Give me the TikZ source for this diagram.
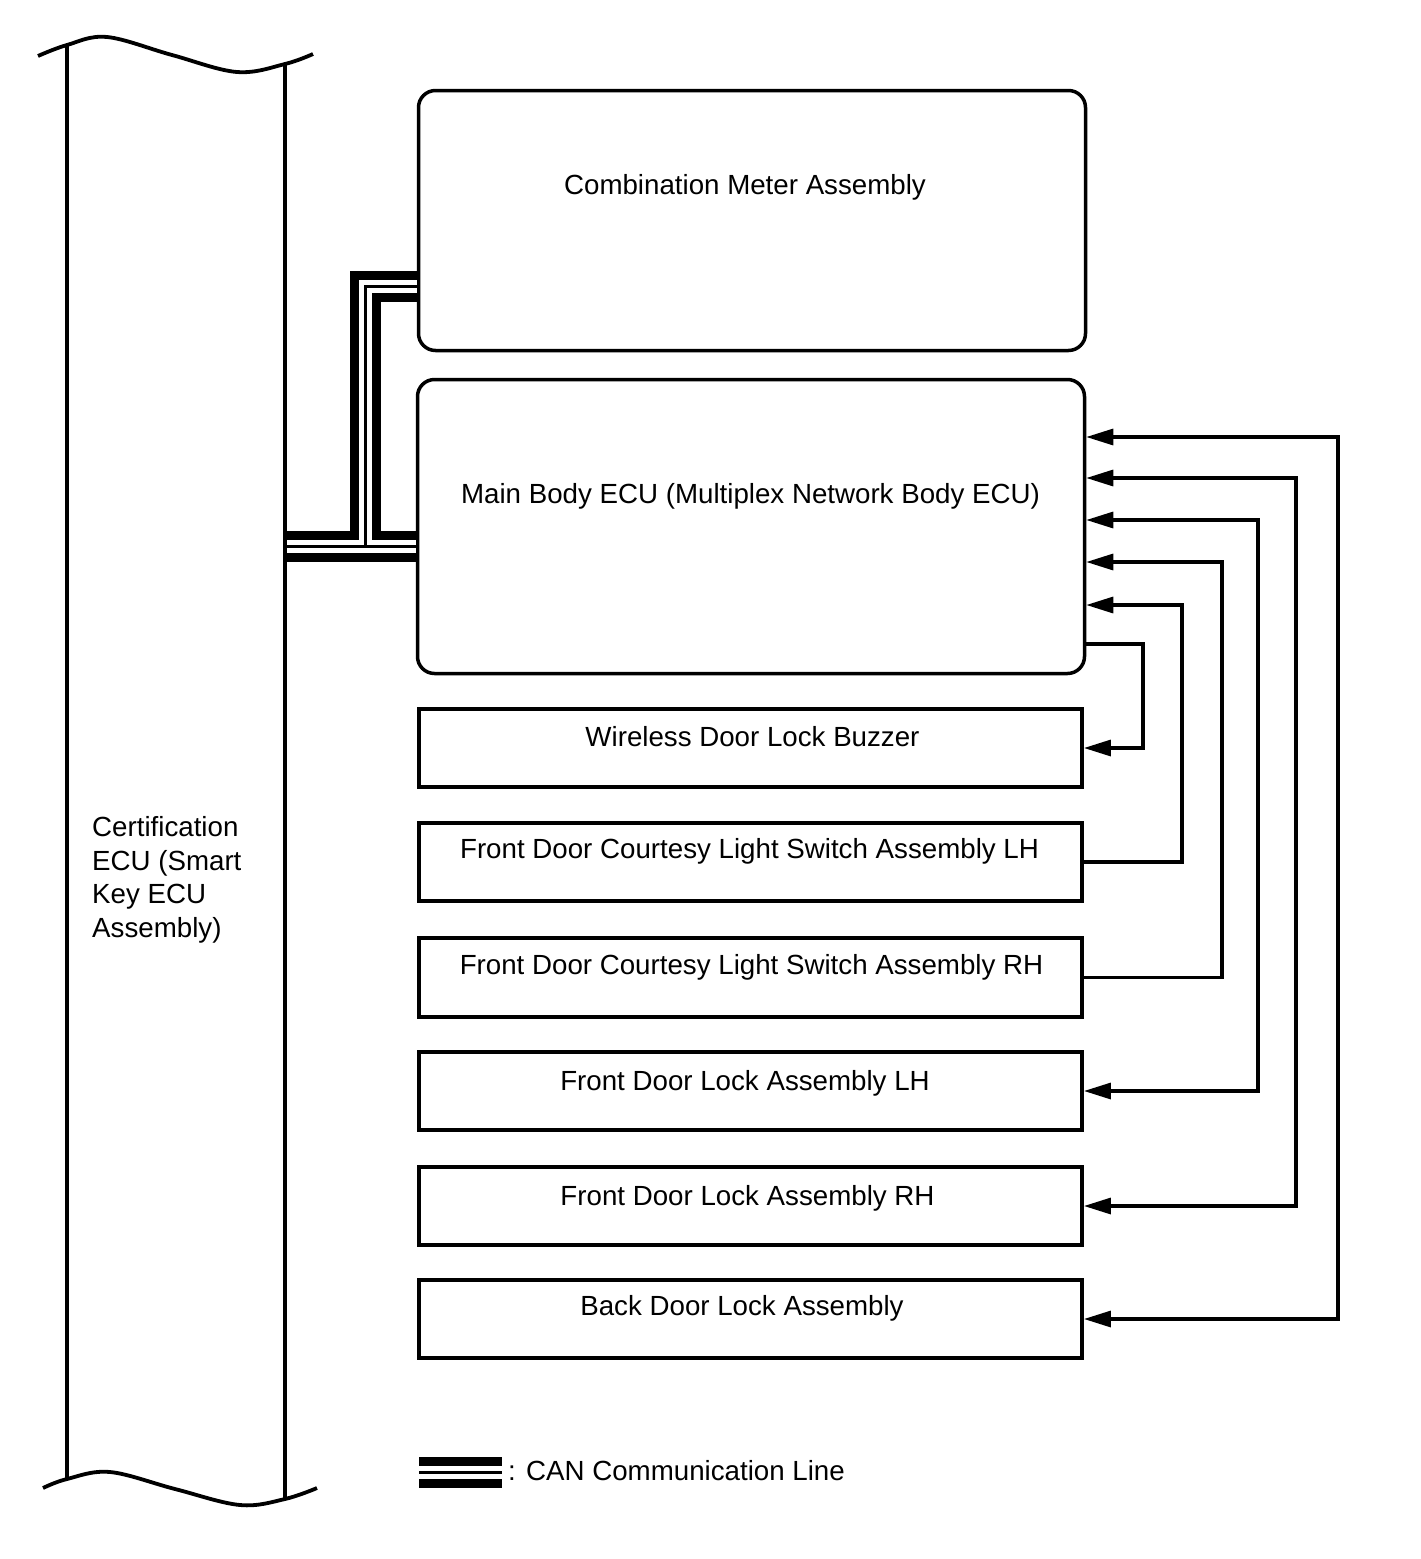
\documentclass[tikz,border=0pt]{standalone}
\usepackage{fontspec}
\setmainfont{Liberation Sans}
\usetikzlibrary{arrows.meta}
\begin{document}
\begin{tikzpicture}[x=1pt,y=-1pt,
  >={Triangle[length=27pt,width=16pt]},
  box/.style={draw,line width=3.8pt,inner sep=0pt,minimum width=663pt,minimum height=78.5pt},
  rbox/.style={draw,line width=3.5pt,rounded corners=17pt,inner sep=0pt,minimum width=667pt},
  lbl/.style={inner sep=0pt,anchor=base,font=\fontsize{27.7}{33.5}\selectfont},
  conn/.style={line width=3.2pt},
  edge/.style={line width=3.8pt}]
\useasboundingbox (0,0) rectangle (1421,1559);
\fill[white] (0,0) rectangle (1421,1559);

% boxes
\node[rbox,minimum height=260pt] (cm) at (752,220.5) {};
\node[rbox,minimum height=294pt] (mb) at (751,526.5) {};
\node[box] (buz) at (750.5,748) {};
\node[box] (fdcl) at (750.5,862) {};
\node[box] (fdcr) at (750.5,977.5) {};
\node[box] (fdll) at (750.5,1091) {};
\node[box] (fdlr) at (750.5,1206) {};
\node[box] (bdl) at (750.5,1319) {};

% texts
\node[lbl] (tcm) at (745,194) {Combination Meter Assembly};
\node[lbl] (tmb) at (750.5,503) {Main Body ECU (Multiplex Network Body ECU)};
\node[lbl] (tbuz) at (752.5,746) {Wireless Door Lock Buzzer};
\node[lbl] (tfdcl) at (749.5,858) {Front Door Courtesy Light Switch Assembly LH};
\node[lbl] (tfdcr) at (751.5,974) {Front Door Courtesy Light Switch Assembly RH};
\node[lbl] (tfdll) at (745,1090) {Front Door Lock Assembly LH};
\node[lbl] (tfdlr) at (747.5,1205) {Front Door Lock Assembly RH};
\node[lbl] (tbdl) at (742,1315) {Back Door Lock Assembly};
\node[lbl,anchor=west,align=left] (cert) at (92,880) {Certification\\ECU (Smart\\Key ECU\\Assembly)};

% connectors
\draw[conn,<->] (mb.east |- 0,437) -- (1338,437) |- (bdl.east);
\draw[conn,<->] (mb.east |- 0,478) -- (1296,478) |- (fdlr.east);
\draw[conn,<->] (mb.east |- 0,520) -- (1258,520) |- (fdll.east);
\draw[conn,<-] (mb.east |- 0,562) -- (1222,562) |- (fdcr.east);
\draw[conn,<-] (mb.east |- 0,605) -- (1182,605) |- (fdcl.east);
\draw[conn,->] (mb.east |- 0,644) -- (1143,644) |- (buz.east);

% CAN bus
\coordinate (colR) at (285,546.5);
\coordinate (j) at (365.5,546.5);
\coordinate (jt) at (365.5,286);
\coordinate (lg1) at (419,1472);
\coordinate (lg2) at (502,1472);
\foreach \w/\c in {31/black,13/white,3/black}{
  \draw[line width=\w pt,draw=\c] (colR) -- (mb.west |- colR);
  \draw[line width=\w pt,draw=\c] (j) -- (jt) -- (cm.west |- jt);
  \draw[line width=\w pt,draw=\c] (lg1) -- (lg2);
}

% certification ECU column
\draw[edge] (67,45) -- (67,1479);
\draw[edge] (285,64) -- (285,1499);
\draw[edge] plot[smooth,tension=0.6] coordinates {(38,56) (67,45) (107,37) (172,55) (237,72) (285,64) (313,54)};
\draw[edge] plot[smooth,tension=0.6] coordinates {(43,1488) (67,1479) (110,1472) (175,1489) (240,1505) (285,1499) (317,1488)};

% legend
\node[lbl,anchor=base west] (leg) at (508,1480) {: CAN Communication Line};
\end{tikzpicture}
\end{document}
